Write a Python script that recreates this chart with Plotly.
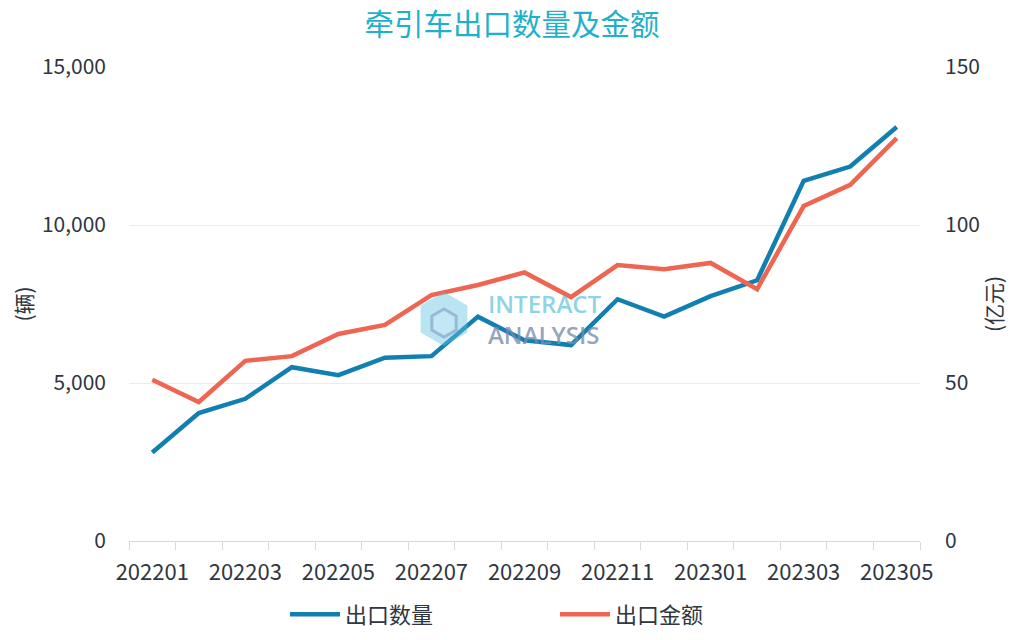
import plotly.graph_objects as go
import math

months = ["202201", "202202", "202203", "202204", "202205", "202206", "202207", "202208",
          "202209", "202210", "202211", "202212", "202301", "202302", "202303", "202304", "202305"]
export_qty = [2800, 4050, 4500, 5500, 5250, 5800, 5850, 7100, 6350, 6200, 7650, 7100, 7750, 8250, 11400, 11850, 13100]
export_val = [51, 44, 57, 58.5, 65.5, 68.4, 77.8, 81, 85, 77.2, 87.3, 86, 88, 79.7, 106, 112.7, 127.5]
left_ticks = [0, 5000, 10000, 15000]
right_ticks = [0, 50, 100, 150]

FONT = "Noto Sans CJK SC"
BLUE = "#127fb1"
RED = "#ee6552"

xi = list(range(len(months)))

fig = go.Figure()
fig.add_trace(go.Scatter(x=xi, y=export_qty, name="出口数量", mode="lines",
                         line=dict(color=BLUE, width=4.5), yaxis="y"))
fig.add_trace(go.Scatter(x=xi, y=export_val, name="出口金额", mode="lines",
                         line=dict(color=RED, width=4.5), yaxis="y2"))

# plot-area pixel geometry used for the watermark
L, R, T, B = 129, 920, 67, 541
W, H = 1024, 640

def px(xp, yp):
    return (xp - L) / (R - L), (B - yp) / (B - T)

def hexpath(cx, cy, r):
    pts = []
    for k in range(6):
        a = math.radians(90 + 60 * k)
        pts.append(px(cx + r * math.cos(a), cy - r * math.sin(a)))
    return "M " + " L ".join(f"{x:.4f},{y:.4f}" for x, y in pts) + " Z"

fig.add_shape(type="path", path=hexpath(444, 319, 27), xref="paper", yref="paper",
              fillcolor="rgba(100,195,225,0.45)", line=dict(width=0), layer="above")
fig.add_shape(type="path", path=hexpath(444, 323, 14), xref="paper", yref="paper",
              fillcolor="rgba(200,235,245,0.55)", line=dict(color="rgba(120,140,180,0.5)", width=3),
              layer="above")

xa, ya = px(544, 319)
fig.add_annotation(x=xa, y=ya, xref="paper", yref="paper", showarrow=False, align="left",
                   text="<span style='color:rgba(110,200,225,0.8)'>INTERACT</span><br>"
                        "<span style='color:rgba(120,140,175,0.8)'>ANALYSIS</span>",
                   font=dict(family="Open Sans", size=24, weight=600))

fig.update_layout(
    width=W, height=H,
    paper_bgcolor="white", plot_bgcolor="white",
    margin=dict(l=L, r=W - R, t=T, b=H - B, autoexpand=False),
    font=dict(family=FONT, size=21, color="#2f3640"),
    title=dict(text="牵引车出口数量及金额", x=0.5, xanchor="center", y=0.961, yanchor="middle",
               font=dict(family=FONT, size=29.5, color="#1fb1c9")),
    showlegend=True,
    legend=dict(orientation="h", xref="container", x=0.542, xanchor="center", yref="container",
                y=0.04, yanchor="middle", itemwidth=50,
                font=dict(family=FONT, size=22, color="#2f3640"), entrywidth=205),
    xaxis=dict(range=[-0.5, len(months) - 0.5], tickvals=xi[::2], ticktext=months[::2],
               ticks="", showgrid=False, zeroline=False, showline=True, linecolor="#d9d9d9",
               linewidth=1, ticklabelstandoff=12, automargin=False, tickfont=dict(size=22),
               minor=dict(ticks="outside", tick0=-0.5, dtick=1, ticklen=8, tickcolor="#d9d9d9",
                          showgrid=False)),
    yaxis=dict(range=[0, 15000], tickvals=left_ticks, tickformat=",", showgrid=True,
               gridcolor="#ececec", zeroline=False, ticklabelstandoff=22, automargin=False,
               title=dict(text="(辆)", standoff=3, font=dict(size=21))),
    yaxis2=dict(range=[0, 150], tickvals=right_ticks, overlaying="y", side="right",
                showgrid=False, zeroline=False, ticklabelstandoff=24, automargin=False,
                title=dict(text="(亿元)", standoff=8, font=dict(size=21))),
)

fig.write_html("out.html", config={"displayModeBar": False},
               post_script="document.body.style.margin='0';")
